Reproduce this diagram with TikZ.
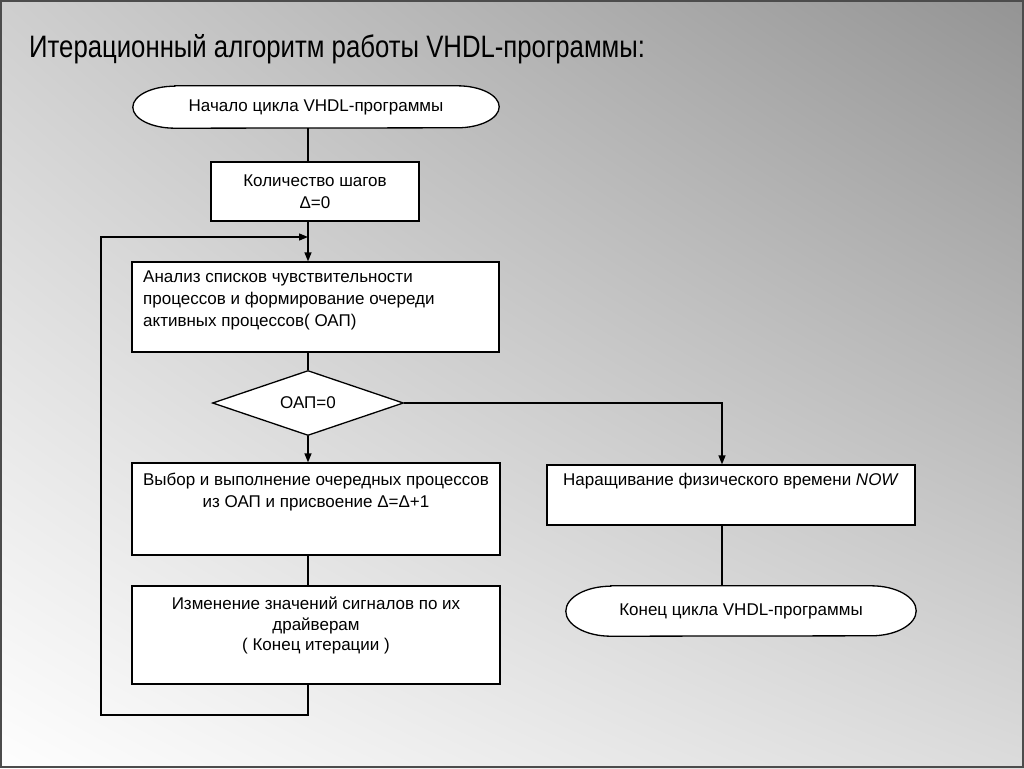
\documentclass[tikz,border=0pt]{standalone}
\usepackage{fontspec}
\setmainfont{Liberation Sans}
\newfontfamily\narrowfont{Liberation Sans}[FakeStretch=0.83]
\usetikzlibrary{shapes.geometric,arrows.meta,shadings}
\pgfdeclarelayer{bg}
\pgfdeclarelayer{mid}
\pgfsetlayers{bg,mid,main}
\definecolor{bgUL}{gray}{0.81}
\definecolor{bgUR}{gray}{0.58}
\definecolor{bgLL}{gray}{0.995}
\definecolor{bgLR}{gray}{0.86}
\tikzset{
  ln/.style={line width=1.3pt, draw=black},
  arr/.style={ln, -{Triangle[length=9pt,width=7pt]}},
  boxnode/.style={draw=black, line width=1.3pt, fill=white, inner sep=0pt},
  txt/.style={font=\fontsize{17}{22}\selectfont, inner sep=0pt, align=center},
  termtxt/.style={font=\fontsize{17}{22}\selectfont, inner sep=0pt},
  termline/.style={draw=black, line width=1.3pt, fill=white},
}
\begin{document}
\begin{tikzpicture}[x=1pt,y=-1pt]
\useasboundingbox (0,0) rectangle (1024,768);
\begin{pgfonlayer}{bg}
\shade[upper left=bgUL, upper right=bgUR, lower left=bgLL, lower right=bgLR] (0,0) rectangle (1024,768);
\draw[line width=1.5pt, draw=black!70] (1,1) rectangle (1023,767);
\end{pgfonlayer}

% title
\node[anchor=base west, inner sep=0pt, font=\narrowfont\fontsize{31}{36}\selectfont] (title) at (29,57) {Итерационный алгоритм работы VHDL-программы:};

% helper coordinates
\coordinate (sp) at (308,237);
\coordinate (lb) at (101,715);
\coordinate (rx) at (722,403);

% start terminator
\node[termtxt, minimum width=366pt, minimum height=42pt] (start) at (316,107) {Начало цикла VHDL-программы};
\begin{pgfonlayer}{mid}
\path[termline] ([xshift=42pt]start.north west) -- ([xshift=-42pt]start.north east)
  arc[start angle=90, end angle=-90, x radius=42pt, y radius=21pt]
  -- ([xshift=42pt]start.south west)
  arc[start angle=270, end angle=90, x radius=42pt, y radius=21pt] -- cycle;
\end{pgfonlayer}

% box 2
\node[boxnode, txt, minimum width=208pt, minimum height=59pt] (b2) at (315,191.5) {Количество шагов\\Δ=0};

% box 3
\node[boxnode, minimum width=367pt, minimum height=90pt] (b3) at (315.5,307) {};
\node[txt, align=left, anchor=north west] (b3t) at (143,271) {Анализ списков чувствительности\\процессов и формирование очереди\\активных процессов( ОАП)};

% diamond
\node[draw=black, line width=1.3pt, fill=white, diamond, inner sep=0pt, aspect=2.9, minimum width=191pt, minimum height=65pt, font=\fontsize{17}{22}\selectfont] (dia) at (308,403) {ОАП=0};

% box 4
\node[boxnode, minimum width=368pt, minimum height=92pt] (b4) at (316,509) {};
\node[txt, anchor=north] (b4t) at (316,473) {Выбор и выполнение очередных процессов\\из ОАП и присвоение Δ=Δ+1};

% box 6
\node[boxnode, minimum width=368pt, minimum height=60pt] (b6) at (731,495) {};
\node[txt, anchor=north] (b6t) at (731,473) {Наращивание физического времени \textit{NOW}};

% box 5
\node[boxnode, minimum width=368pt, minimum height=98pt] (b5) at (316,635) {};
\node[txt, anchor=north, font=\fontsize{17}{20.5}\selectfont] (b5t) at (316,597) {Изменение значений сигналов по их\\драйверам\\( Конец итерации )};

% end terminator
\node[termtxt, minimum width=350pt, minimum height=50pt] (fin) at (741,611) {Конец цикла VHDL-программы};
\begin{pgfonlayer}{mid}
\path[termline] ([xshift=45pt]fin.north west) -- ([xshift=-45pt]fin.north east)
  arc[start angle=90, end angle=-90, x radius=45pt, y radius=25pt]
  -- ([xshift=45pt]fin.south west)
  arc[start angle=270, end angle=90, x radius=45pt, y radius=25pt] -- cycle;
\end{pgfonlayer}

% connectors
\draw[ln] (start.south -| sp) -- (b2.north -| sp);
\draw[arr] (b2.south -| sp) -- (b3.north -| sp);
\draw[ln] (b3.south -| sp) -- (dia.north);
\draw[arr] (dia.south) -- (b4.north -| dia.south);
\draw[ln] (b4.south -| sp) -- (b5.north -| sp);
\draw[arr] (b5.south -| sp) |- (lb) |- (sp);
\draw[arr] (dia.east) -| (b6.north -| rx);
\draw[ln] (b6.south -| rx) -- (fin.north -| rx);
\end{tikzpicture}
\end{document}
